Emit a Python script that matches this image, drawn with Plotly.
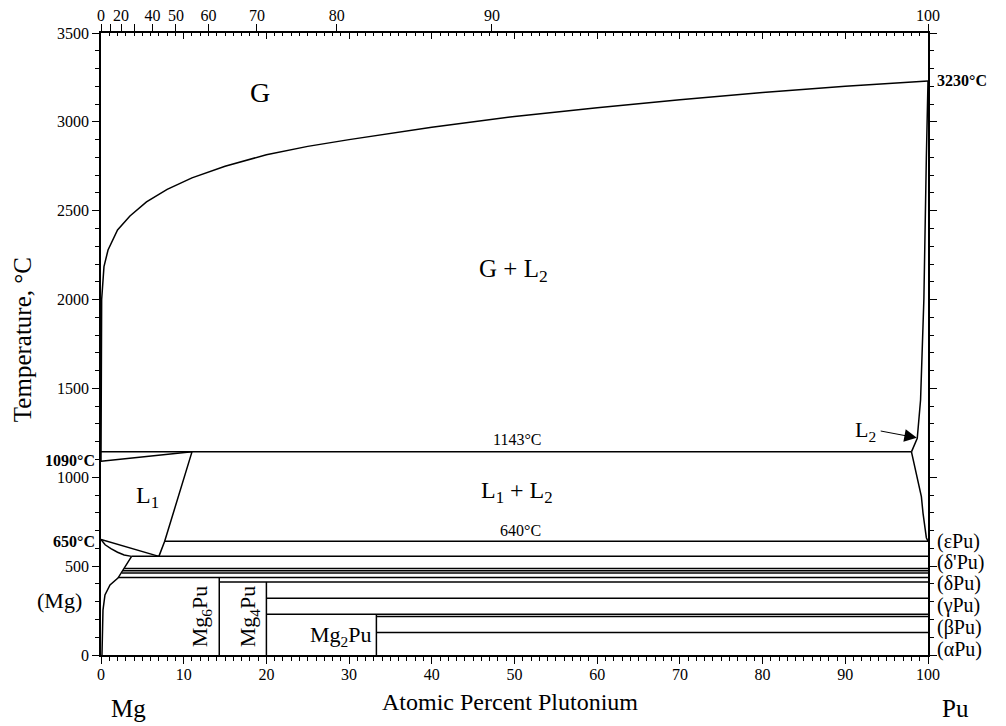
import plotly.graph_objects as go

# ---------------- data ----------------
# gas dew curve (G / G+L2 boundary)
gas_x = [0, 0.03, 0.08, 0.36, 0.85, 2.0, 3.5, 5.5, 8, 11, 15, 20, 25, 30, 40, 50, 60, 70, 80, 90, 100]
gas_T = [1090, 1500, 2000, 2185, 2279, 2392, 2470, 2550, 2620, 2685, 2750, 2815, 2862, 2900, 2970, 3030, 3080, 3125, 3165, 3200, 3230]

# L2 boundary on the Pu side
l2_up_x = [98.0, 98.7, 99.1, 99.5, 99.8, 100]
l2_up_T = [1143, 1219, 1435, 2000, 2800, 3230]
l2_lo_x = [98.0, 98.6, 99.2, 99.4, 99.6, 99.8, 100]
l2_lo_T = [1143, 1020, 891, 797, 720, 660, 640]

# Mg-rich side
l1_gas_x = [0, 11]
l1_gas_T = [1090, 1143]
l1_liq_x = [11, 7.7, 7.0]
l1_liq_T = [1143, 640, 555]
mg_liq_x = [0, 7.0]
mg_liq_T = [650, 555]
mg_sol_x = [0, 0.5, 1.2, 2.0, 2.8, 3.7]
mg_sol_T = [650, 620, 598, 578, 563, 555]
mg_solv_x = [3.7, 2.53, 2.05, 1.09, 0.48, 0.24, 0.15, 0.12]
mg_solv_T = [555, 467, 433, 394, 338, 253, 141, 0]

# horizontal invariant lines: temperature, start, end (at.% Pu)
iso_T = [1143, 640, 555, 487, 474, 461, 436, 411, 320, 229, 216, 126]
iso_x0 = [0, 7.7, 3.7, 2.8, 2.65, 2.5, 2.1, 14.3, 20, 20, 33.3, 33.3]
iso_x1 = [98.0, 100, 100, 100, 100, 100, 100, 100, 100, 100, 100, 100]

# compounds: composition and upper temperature
comp_x = [14.3, 20.0, 33.3]
comp_top = [436, 411, 229]

# top axis (weight percent) labels
wt_ticks = [0, 10, 20, 30, 40, 50, 60, 70, 80, 90, 100]
wt_text = ["0", "", "20", "", "40", "50", "60", "70", "80", "90", "100"]
M_MG, M_PU = 24.305, 244.0

# right side phase labels
pu_labels = ["(εPu)", "(δ'Pu)", "(δPu)", "(γPu)", "(βPu)", "(αPu)"]
pu_label_T = [641, 520, 402, 276, 152, 30]

X_MAX, T_MAX = 100.0, 3500.0


def wt_to_at(w):
    if w <= 0:
        return 0.0
    if w >= 100:
        return 100.0
    a = w / M_PU
    b = (100 - w) / M_MG
    return 100 * a / (a + b)


FONT = "Liberation Serif"
LW = 1.5
fig = go.Figure()


def add_line(xs, ys):
    fig.add_trace(go.Scatter(x=xs, y=ys, mode="lines", line=dict(color="black", width=LW),
                             hoverinfo="skip", showlegend=False))


add_line(gas_x, gas_T)
add_line(l2_up_x, l2_up_T)
add_line(l2_lo_x, l2_lo_T)
add_line(l1_gas_x, l1_gas_T)
add_line(l1_liq_x, l1_liq_T)
add_line(mg_liq_x, mg_liq_T)
add_line(mg_sol_x, mg_sol_T)
add_line(mg_solv_x, mg_solv_T)
for t, a, b in zip(iso_T, iso_x0, iso_x1):
    add_line([a, b], [t, t])
for cx, ct in zip(comp_x, comp_top):
    add_line([cx, cx], [0, ct])

# invisible traces to activate extra axes
fig.add_trace(go.Scatter(x=[0, 100], y=[0, 0], xaxis="x2", mode="markers", marker=dict(opacity=0),
                         hoverinfo="skip", showlegend=False))
fig.add_trace(go.Scatter(x=[0, 100], y=[0, 0], xaxis="x3", mode="markers", marker=dict(opacity=0),
                         hoverinfo="skip", showlegend=False))
fig.add_trace(go.Scatter(x=[0, 100], y=[0, 0], yaxis="y2", mode="markers", marker=dict(opacity=0),
                         hoverinfo="skip", showlegend=False))

tickfont = dict(family=FONT, size=16, color="black")
common = dict(showgrid=False, zeroline=False, automargin=False, tickwidth=1, tickcolor="black")
fig.update_layout(
    width=1006, height=726,
    margin=dict(l=101, r=78, t=33, b=71, autoexpand=False),
    paper_bgcolor="white", plot_bgcolor="white",
    showlegend=False,
    xaxis=dict(range=[0, X_MAX], showline=True, linecolor="black", linewidth=LW, ticks="outside",
               tickvals=list(range(0, 101, 10)), ticklen=7, tickfont=tickfont, ticklabelstandoff=-3,
               minor=dict(dtick=1, ticks="outside", ticklen=4, tickwidth=1, tickcolor="black"), **common),
    xaxis2=dict(range=[0, X_MAX], overlaying="x", side="top", showline=True, linecolor="black",
                linewidth=LW, ticks="outside", tickvals=[wt_to_at(w) for w in wt_ticks],
                ticktext=wt_text, ticklen=7, tickfont=tickfont, ticklabelstandoff=-3, **common),
    xaxis3=dict(range=[0, X_MAX], overlaying="x", side="top", showline=False, ticks="inside",
                tickvals=list(range(0, 101, 10)), ticklen=6, showticklabels=False,
                minor=dict(dtick=1, ticks="inside", ticklen=3, tickwidth=1, tickcolor="black"), **common),
    yaxis=dict(range=[0, T_MAX], showline=True, linecolor="black", linewidth=LW, ticks="outside",
               tickvals=list(range(0, 3501, 500)), ticklen=7, tickfont=tickfont,
               minor=dict(dtick=100, ticks="outside", ticklen=4, tickwidth=1, tickcolor="black"), **common),
    yaxis2=dict(range=[0, T_MAX], overlaying="y", side="right", showline=True, linecolor="black",
                linewidth=LW, ticks="outside", tickvals=list(range(0, 3501, 500)), ticklen=7,
                showticklabels=False,
                minor=dict(dtick=100, ticks="outside", ticklen=4, tickwidth=1, tickcolor="black"), **common),
)


def label(text, x, y, size, bold=False, angle=0, xanchor="center", yanchor="middle"):
    if bold:
        text = "<b>" + text + "</b>"
    fig.add_annotation(x=x / X_MAX, y=y / T_MAX, xref="paper", yref="paper", text=text,
                       showarrow=False, textangle=angle, xanchor=xanchor, yanchor=yanchor,
                       font=dict(family=FONT, size=size, color="black"))


label("G", 19.2, 3168, 28)
label("G + L<sub>2</sub>", 49.9, 2166, 25)
label("1143°C", 50.3, 1212, 16)
label("L<sub>1</sub>", 5.6, 889, 24)
label("L<sub>1</sub> + L<sub>2</sub>", 50.3, 917, 24)
label("640°C", 50.7, 700, 16)
label("Mg<sub>6</sub>Pu", 12.2, 217, 22, angle=-90)
label("Mg<sub>4</sub>Pu", 18.0, 217, 22, angle=-90)
label("Mg<sub>2</sub>Pu", 29.0, 105, 22)
label("(Mg)", -5.0, 309, 22)
label("1090°C", -0.5, 1097, 16, bold=True, xanchor="right")
label("650°C", -0.5, 641, 16, bold=True, xanchor="right")
label("3230°C", 100.9, 3230, 16, bold=True, xanchor="left")
for t, tt in zip(pu_labels, pu_label_T):
    label(t, 100.8, tt, 20, xanchor="left")
label("Mg", 3.3, -300, 25)
label("Pu", 103.3, -300, 25)
label("Atomic Percent Plutonium", 49.5, -265, 24)
label("Temperature, °C", -9.4, 1773, 25, angle=-90)

# L2 label with arrow
fig.add_annotation(x=98.65, y=1222, ax=94.1, ay=1262, xref="x", yref="y", axref="x", ayref="y",
                   text="", showarrow=True, arrowhead=2, arrowsize=2.5, arrowwidth=1, arrowcolor="black")
label("L<sub>2</sub>", 93.9, 1262, 22, xanchor="right")

fig.write_html("out.html", post_script="document.body.style.margin='0';",
               config={"displayModeBar": False})
